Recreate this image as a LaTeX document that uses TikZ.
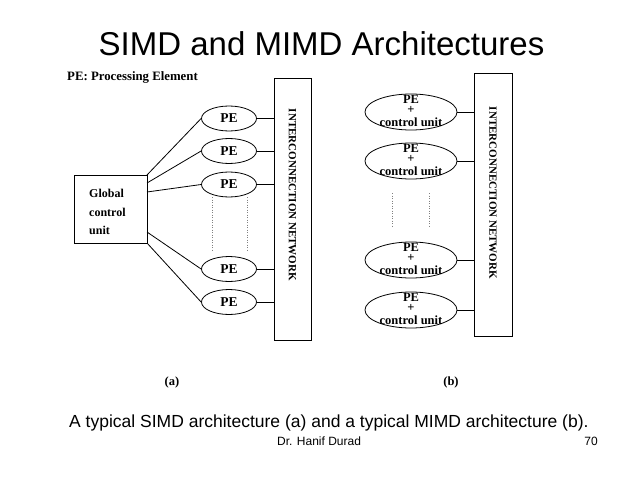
\documentclass[tikz,border=0pt]{standalone}
\usepackage{fontspec}
\setmainfont{Liberation Serif}
\newfontfamily\arialf{Liberation Sans}
\usetikzlibrary{shapes.geometric}
\begin{document}
\begin{tikzpicture}[x=1pt,y=-1pt,
  ln/.style={draw=black,line width=0.8pt},
  pe/.style={ellipse,draw=black,line width=0.8pt,minimum width=55pt,minimum height=25pt,inner sep=0pt,font=\bfseries\fontsize{13.5}{15}\selectfont},
  mpe/.style={ellipse,draw=black,line width=0.8pt,minimum width=92pt,minimum height=36pt,inner sep=0pt},
  mtxt/.style={align=center,inner sep=0pt,font=\bfseries\fontsize{12.5}{14}\selectfont},
  dia/.style={font=\bfseries\fontsize{12}{14}\selectfont,inner sep=0pt},
  net/.style={draw=black,line width=0.8pt,inner sep=0pt},
  dots/.style={draw=gray,line width=0.5pt,dash pattern=on 1pt off 1.5pt}]
\useasboundingbox[fill=white] (0,0) rectangle (638,479);
% title and captions
\node[font=\arialf\fontsize{33}{38}\selectfont,anchor=base,inner sep=0pt] (title) at (321.5,55) {SIMD and MIMD Architectures};
\node[font=\arialf\fontsize{17.5}{20}\selectfont,anchor=base west,inner sep=0pt] (cap) at (69,427) {A typical SIMD architecture (a) and a typical MIMD architecture (b).};
\node[font=\arialf\fontsize{12}{14}\selectfont,anchor=base west,inner sep=0pt] (auth) at (277,445) {Dr. Hanif Durad};
\node[font=\arialf\fontsize{12}{14}\selectfont,anchor=base east,inner sep=0pt] (pg) at (598,445) {70};
\node[dia,anchor=base west,font=\bfseries\fontsize{12.8}{14}\selectfont] (legend) at (67,80) {PE: Processing Element};
\node[dia,anchor=base,font=\bfseries\fontsize{12.5}{14}\selectfont] (la) at (172,385) {(a)};
\node[dia,anchor=base,font=\bfseries\fontsize{12.5}{14}\selectfont] (lb) at (451,385) {(b)};
% (a) SIMD
\node[net,minimum width=37pt,minimum height=262pt] (neta) at (292.5,209) {};
\node[dia,rotate=-90,font=\bfseries\fontsize{11}{13}\selectfont] (netat) at (292.5,195) {INTERCONNECTION NETWORK};
\node[net,minimum width=73pt,minimum height=68pt] (gcu) at (110.5,209) {};
\node[dia,anchor=base west] (g1) at (89,197) {Global};
\node[dia,anchor=base west] (g2) at (89,216) {control};
\node[dia,anchor=base west] (g3) at (89,234) {unit};
\node[pe] (p1) at (229,118.5) {PE};
\node[pe] (p2) at (229,151) {PE};
\node[pe] (p3) at (229,184.5) {PE};
\node[pe] (p4) at (229,269) {PE};
\node[pe] (p5) at (229,302) {PE};
\foreach \n in {p1,p2,p3,p4,p5}{\draw[ln] (\n.east) -- (\n.east -| neta.west);}
\coordinate (c1) at (147,175);
\coordinate (c2) at (147,183);
\coordinate (c3) at (147,192);
\coordinate (c4) at (147,232);
\coordinate (c5) at (147,243);
\draw[ln] (c1) -- (p1.west);
\draw[ln] (c2) -- (p2.west);
\draw[ln] (c3) -- (p3.west);
\draw[ln] (c4) -- (p4.west);
\draw[ln] (c5) -- (p5.west);
\coordinate (da1) at (212,197); \coordinate (da2) at (212,252);
\coordinate (db1) at (247,197); \coordinate (db2) at (247,252);
\draw[dots] (da1) -- (da2);
\draw[dots] (db1) -- (db2);
% (b) MIMD
\node[net,minimum width=38pt,minimum height=263pt] (netb) at (493,204.5) {};
\node[dia,rotate=-90,font=\bfseries\fontsize{11}{13}\selectfont] (netbt) at (493,193) {INTERCONNECTION NETWORK};
\foreach \i/\y in {1/112,2/161,3/260,4/310}{
  \node[mpe] (m\i) at (411,\y) {};
  \node[mtxt] (m\i t) at (411,\y-1.2) {PE\\[-4.5pt]+\\[-1pt]control unit};
  \draw[ln] (m\i.east) -- (m\i.east -| netb.west);
}
\coordinate (ea1) at (392,193); \coordinate (ea2) at (392,228);
\coordinate (eb1) at (429,193); \coordinate (eb2) at (429,228);
\draw[dots] (ea1) -- (ea2);
\draw[dots] (eb1) -- (eb2);
\end{tikzpicture}
\end{document}
